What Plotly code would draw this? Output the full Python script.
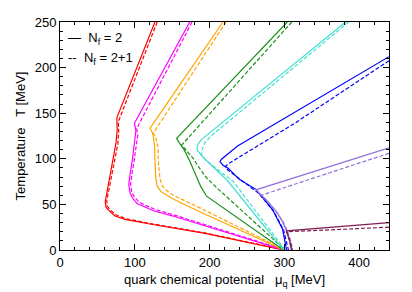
import plotly.graph_objects as go

# ---- data (mu_q in MeV, T in MeV) ----
red_mu_s = [127, 101.5, 76, 76.5, 75, 71, 66.5, 62, 60.5, 61.5, 64.6, 73.5, 87, 120, 194, 299]
red_T_s = [250, 197.5, 145, 132, 118, 100, 80, 62, 53, 47, 43.9, 37.3, 33.6, 28.5, 18.3, 0]
red_mu_d = [130, 104, 78, 78.5, 77.5, 73.5, 68.5, 64, 62.5, 63.5, 66.5, 75, 89, 121, 195, 301]
red_T_d = [250, 195, 140.7, 130, 117, 100, 80, 62, 54, 48, 44.5, 38.3, 34.3, 29, 18.6, 0]

mag_mu_s = [173.5, 99.5, 101.5, 100, 97, 93.5, 92, 93.5, 97, 103, 112, 125, 150, 299]
mag_T_s = [250, 139, 131, 118, 100, 82, 72, 63, 57, 51, 47.5, 43, 37.5, 0]
mag_mu_d = [176.5, 102.5, 104, 102.5, 99.5, 96, 94.5, 96, 100, 106, 115, 128, 152, 301]
mag_T_d = [250, 133, 126, 115, 100, 82, 72, 63, 57.5, 52.5, 48.7, 44.3, 38.6, 0]

ora_mu_s = [218, 120.3, 124, 126.5, 127, 128, 130, 135, 142.6, 150, 165, 187, 299]
ora_T_s = [250, 133.4, 128, 115, 97, 80, 70, 64, 60.3, 56.5, 50.5, 42, 0]
ora_mu_d = [222, 124.7, 128, 131, 131.5, 133.7, 137, 143, 151.5, 165, 190, 301]
ora_T_d = [250, 128, 124, 113, 97, 78, 70, 65, 60, 54.5, 45, 0]

grn_mu_s = [304, 156, 160, 166, 173.8, 181, 188, 196, 210, 299]
grn_T_s = [250, 122.4, 117, 110, 97, 83, 70, 59, 51, 0]
grn_mu_d = [310, 162.7, 167, 178, 188, 196, 210, 301]
grn_T_d = [250, 115, 111, 100.5, 88, 79, 68, 0]

cyn_mu_s = [382, 287, 240, 196, 189, 184.5, 183, 188, 194, 205, 223, 299]
cyn_T_s = [250, 186.4, 155, 126, 121, 116, 110, 105, 99.5, 91, 77, 0]
cyn_mu_d = [386, 293, 246, 202, 194, 190.5, 189, 194, 205, 232, 301]
cyn_T_d = [250, 186.4, 155, 125, 118, 111, 104, 99.5, 92, 75, 0]

blu_mu_s = [440, 314, 237.5, 224, 216, 214, 218, 225, 239.7, 262, 284, 297.7, 303]
blu_T_s = [212, 151.6, 114, 105, 99.5, 97, 93, 89.6, 77.5, 66.5, 44.6, 22.7, 0]
blu_mu_d = [440, 314, 264, 240, 226, 221, 224, 232, 246, 266, 286, 299, 305.5]
blu_T_d = [207.6, 139, 114, 102, 95, 91.4, 88, 83, 74, 62, 42, 22, 0]

pur_mu_s = [440, 262, 276, 289, 297, 302, 307, 309]
pur_T_s = [112, 66, 55, 42.7, 32, 22.7, 10, 0]
pur_mu_d = [440, 269, 280, 291, 299, 304, 309, 311]
pur_T_d = [106, 60, 51, 40, 30, 21, 9, 0]

mar_mu_s = [440, 303, 306.5, 309, 310]
mar_T_s = [30, 21, 12, 4, 0]
mar_mu_d = [440, 303, 307, 310, 311]
mar_T_d = [25, 20, 11, 4, 0]

x_ticks = [0, 100, 200, 300, 400]
y_ticks = [0, 50, 100, 150, 200, 250]

series = [
    ("#ff0000", red_mu_s, red_T_s, red_mu_d, red_T_d),
    ("#ff00ff", mag_mu_s, mag_T_s, mag_mu_d, mag_T_d),
    ("#ffa500", ora_mu_s, ora_T_s, ora_mu_d, ora_T_d),
    ("#1a8f1a", grn_mu_s, grn_T_s, grn_mu_d, grn_T_d),
    ("#40e0d0", cyn_mu_s, cyn_T_s, cyn_mu_d, cyn_T_d),
    ("#0000ff", blu_mu_s, blu_T_s, blu_mu_d, blu_T_d),
    ("#9370db", pur_mu_s, pur_T_s, pur_mu_d, pur_T_d),
    ("#7f1f55", mar_mu_s, mar_T_s, mar_mu_d, mar_T_d),
]

fig = go.Figure()
for col, ms, ts, md, td in series:
    fig.add_trace(go.Scatter(x=ms, y=ts, mode="lines",
                             line=dict(color=col, width=1.2), showlegend=False,
                             hoverinfo="skip"))
    fig.add_trace(go.Scatter(x=md, y=td, mode="lines",
                             line=dict(color=col, width=1.2, dash="4px,2px"),
                             showlegend=False, hoverinfo="skip"))

font = "Liberation Sans, Arial, Helvetica, sans-serif"
axis_common = dict(showline=True, linecolor="black", linewidth=1, mirror="allticks",
                   ticks="inside", ticklen=6, tickcolor="black", tickwidth=1,
                   showgrid=False, zeroline=False, automargin=False,
                   tickfont=dict(family=font, size=13, color="black"))

fig.update_xaxes(range=[0, 440], tickvals=x_ticks,
                 minor=dict(dtick=20, ticklen=3, ticks="inside", tickcolor="black"),
                 title=dict(text="quark chemical potential   μ<sub>q</sub> [MeV]",
                            font=dict(family=font, size=13, color="black"), standoff=6),
                 **axis_common)
fig.update_yaxes(range=[0, 250], tickvals=y_ticks,
                 minor=dict(dtick=10, ticklen=3, ticks="inside", tickcolor="black"),
                 title=dict(text="Temperature   T [MeV]",
                            font=dict(family=font, size=13, color="black"), standoff=6),
                 **axis_common)

fig.add_annotation(xref="x", yref="y", x=8, y=232,
                   text="—  N<sub>f</sub> = 2", showarrow=False, xanchor="left",
                   font=dict(family=font, size=13, color="black"))
fig.add_annotation(xref="x", yref="y", x=8, y=210,
                   text="--  N<sub>f</sub> = 2+1", showarrow=False, xanchor="left",
                   font=dict(family=font, size=13, color="black"))

fig.update_layout(width=412, height=292, margin=dict(l=60, r=23, t=22, b=42),
                  paper_bgcolor="white", plot_bgcolor="white")

fig.write_html("out.html", config={"displayModeBar": False},
               post_script="document.body.style.margin='0';document.body.style.padding='0';")
